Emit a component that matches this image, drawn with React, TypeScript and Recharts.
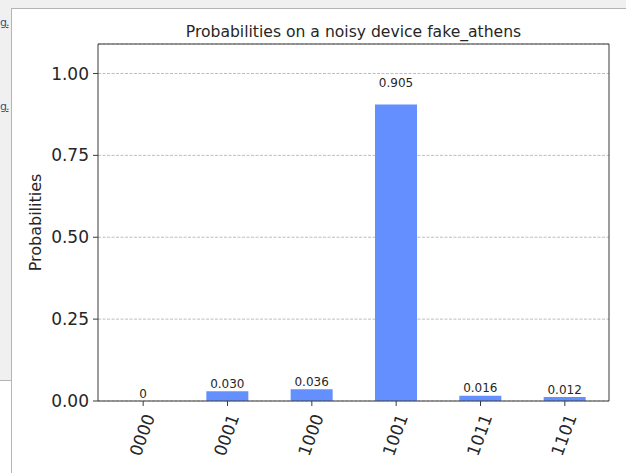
import { BarChart, Bar, XAxis, YAxis, CartesianGrid, LabelList } from "recharts";

const states = ["0000", "0001", "1000", "1001", "1011", "1101"];
const probs = [0, 0.03, 0.036, 0.905, 0.016, 0.012];
const yTicks = [0, 0.25, 0.5, 0.75, 1.0];

const data = states.map((s, i) => ({ state: s, prob: probs[i] }));

const FONT = "'DejaVu Sans', sans-serif";
const INK = "#262626";
const SPINE = "#3a3a3a";

// rotated state labels under the axis
const StateTick = (props: any) => {
    const { x, y, payload } = props;
    return (
        <text
            x={0}
            y={0}
            transform={`translate(${x - 1},${y + 27}) rotate(-70)`}
            textAnchor="middle"
            dominantBaseline="central"
            fontFamily={FONT}
            fontSize={17}
            fill={INK}
        >
            {payload.value}
        </text>
    );
};

// value above each bar, lifted by 5% of its height
const ValueLabel = (props: any) => {
    const vb = props.viewBox || {};
    const x = Number(vb.x ?? props.x) || 0;
    const y = Number(vb.y ?? props.y) || 0;
    const w = Number(vb.width ?? props.width) || 0;
    const h = Number(vb.height ?? props.height) || 0;
    const v = Number(props.value) || 0;
    return (
        <text
            x={x + w / 2}
            y={y - 0.05 * h - 3}
            textAnchor="middle"
            fontFamily={FONT}
            fontSize={12}
            fill={INK}
        >
            {v === 0 ? "0" : v.toFixed(3)}
        </text>
    );
};

const YLabel = (props: any) => {
    const vb = props.viewBox;
    const cx = vb.x + 35;
    const cy = vb.y + vb.height / 2;
    return (
        <text
            x={cx}
            y={cy}
            transform={`rotate(-90, ${cx}, ${cy})`}
            textAnchor="middle"
            dominantBaseline="central"
            fontFamily={FONT}
            fontSize={16}
            fill={INK}
        >
            Probabilities
        </text>
    );
};

export default function App() {
    return (
        <div style={{ position: "absolute", left: 0, top: 0, width: 626, height: 473, overflow: "hidden", background: "#f0f0f0", fontFamily: FONT }}>
            {/* bits of the surrounding window */}
            <div style={{ position: "absolute", left: 11, top: 8, right: 0, bottom: 0, background: "#fff", borderLeft: "1px solid #b4b4b4", borderTop: "1px solid #b4b4b4" }} />
            <div style={{ position: "absolute", left: 0, top: 380, width: 11, bottom: 0, background: "#fff", borderTop: "1px solid #b4b4b4" }} />
            <div style={{ position: "absolute", left: 0, top: 16, fontSize: 11, letterSpacing: -1, color: "#3d4f78", textDecoration: "underline" }}>g.</div>
            <div style={{ position: "absolute", left: 0, top: 100, fontSize: 11, letterSpacing: -1, color: "#3d4f78", textDecoration: "underline" }}>g.</div>

            <div style={{ position: "absolute", left: 0, top: 0 }}>
                <BarChart width={626} height={473} data={data} margin={{ top: 43, right: 16, bottom: 12, left: 0 }}>
                    <CartesianGrid vertical={false} stroke="#bdbdbd" strokeDasharray="3 1.5" />
                    <XAxis
                        dataKey="state"
                        height={60}
                        padding={{ left: 3, right: 2 }}
                        tick={<StateTick />}
                        tickSize={5}
                        stroke={SPINE}
                        interval={0}
                    />
                    <XAxis xAxisId="top" orientation="top" dataKey="state" height={1} tick={false} tickLine={false} stroke={SPINE} />
                    <YAxis
                        width={98}
                        domain={[0, 1.09]}
                        ticks={yTicks}
                        tickFormatter={(v: number) => v.toFixed(2)}
                        tick={{ fontSize: 17, fill: INK, fontFamily: FONT }}
                        tickSize={5}
                        tickMargin={4}
                        stroke={SPINE}
                        allowDataOverflow
                        label={<YLabel />}
                    />
                    <YAxis yAxisId="right" orientation="right" width={1} tick={false} tickLine={false} stroke={SPINE} />
                    {/* tiny min size so the zero bar still gets its "0" label */}
                    <Bar dataKey="prob" fill="#648FFF" barSize={42} minPointSize={0.01} isAnimationActive={false}>
                        <LabelList dataKey="prob" content={<ValueLabel />} />
                    </Bar>
                </BarChart>
            </div>

            <div style={{ position: "absolute", left: 98, top: 23, width: 511, textAlign: "center", fontSize: 15.6, lineHeight: "18px", color: INK }}>
                Probabilities on a noisy device fake_athens
            </div>
        </div>
    );
}
